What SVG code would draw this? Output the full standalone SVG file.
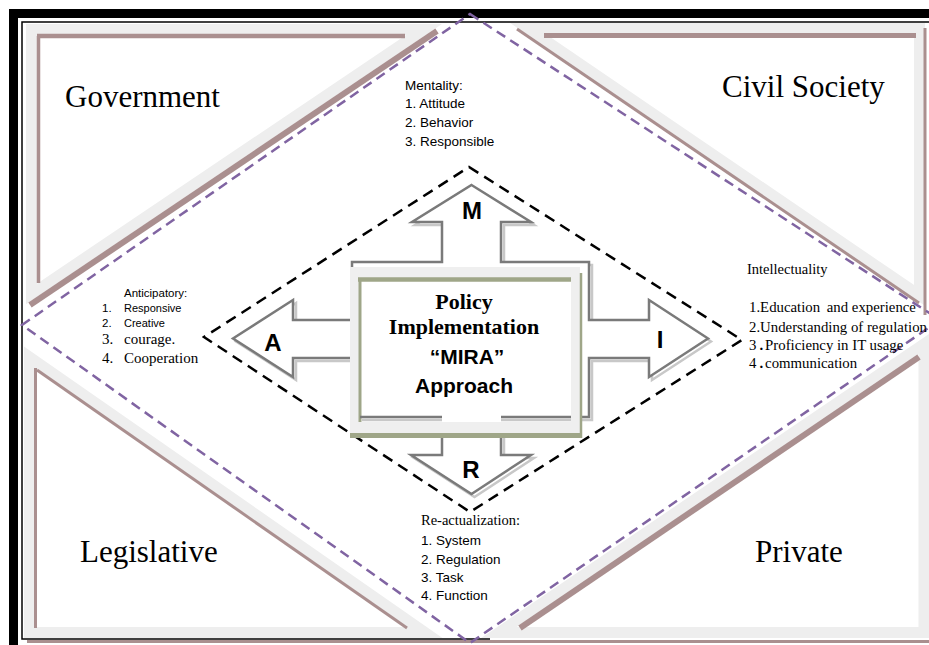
<svg xmlns="http://www.w3.org/2000/svg" width="929" height="645" viewBox="0 0 929 645">
<style>
.band{fill:none;stroke:#eeeeee;stroke-width:11;stroke-linejoin:miter}
.br{stroke:#aa8f8f;fill:none}
.corner{font-family:"Liberation Serif","Times New Roman",serif;font-size:31px;fill:#000}
.serif{font-family:"Liberation Serif","Times New Roman",serif;fill:#000}
.sans{font-family:"Liberation Sans",Arial,sans-serif;fill:#000}
.arr{fill:#fff;stroke:#7a7a7a;stroke-width:2.5;stroke-linejoin:miter}
.arrsh{fill:none;stroke:#c8c8c8;stroke-width:2.5}
.olive{stroke:#9fa688;fill:none}
.purple{fill:none;stroke:#8064a2;stroke-width:2.5;stroke-dasharray:10 6}
.blackdash{fill:none;stroke:#000;stroke-width:2.5;stroke-dasharray:11 7}
.letter{font-family:"Liberation Sans",Arial,sans-serif;font-size:24px;font-weight:bold;fill:#000;text-anchor:middle}
</style>
<rect width="929" height="645" fill="#fff"/>

<g id="frame">
  <rect x="9" y="9" width="920" height="9" fill="#000"/>
  <rect x="9" y="9" width="9" height="636" fill="#000"/>
  <line x1="27" y1="641.5" x2="929" y2="641.5" stroke="#aa8f8f" stroke-width="3"/>
  <path d="M490,639 H22 V22 H929" stroke="#000" stroke-width="1.5" fill="none"/>
</g>

<g id="government">
  <polygon class="band" points="31.5,29.5 424,29.5 31.5,294"/>
  <line class="br" x1="37" y1="36" x2="405" y2="36" stroke-width="4.5"/>
  <line class="br" x1="38.5" y1="36" x2="38.5" y2="283" stroke-width="3.5"/>
  <line class="br" x1="437" y1="31" x2="30" y2="305" stroke-width="6"/>
  <text class="corner" x="65" y="107">Government</text>
</g>

<g id="civil-society">
  <polygon class="band" points="528,28.5 919.5,28.5 919.5,295.4"/>
  <line class="br" x1="544" y1="35.5" x2="916" y2="35.5" stroke-width="5"/>
  <line class="br" x1="925" y1="28" x2="925" y2="315" stroke-width="3"/>
  <line class="br" x1="517" y1="29" x2="919" y2="303" stroke-width="3"/>
  <text class="corner" x="722" y="97">Civil Society</text>
</g>

<g id="legislative">
  <polygon class="band" points="29.5,357 29.5,632.5 425,632.5"/>
  <line class="br" x1="35.5" y1="368" x2="35.5" y2="628" stroke-width="3"/>
  <line class="br" x1="37" y1="370" x2="407" y2="628" stroke-width="3"/>
  <text class="corner" x="80" y="562">Legislative</text>
</g>

<g id="private">
  <polygon class="band" points="924,344 924,632.5 499,632.5"/>
  <line class="br" x1="919" y1="357" x2="520" y2="628" stroke-width="6"/>
  <text class="corner" x="755" y="562">Private</text>
</g>

<g id="connectors">
  <polygon class="purple" points="470,14 940,320 470,643 22,325"/>
  <polygon class="blackdash" points="469,167 742,340 470,512 204,337"/>
  <g id="mira-arrows">
    <polygon class="arrsh" transform="translate(3,3)" points="471.5,185 531,222 501,222 501,262 589,262 589,320 649,320 649,300 708,338.5 649,377 649,358 589,358 589,417 501,417 501,455 531,455 471.5,494 411,455 442,455 442,417 352,417 352,358 293,358 293,377 233,338.5 293,300 293,320 352,320 352,262 442,262 442,222 412,222"/>
    <polygon class="arr" points="471.5,185 531,222 501,222 501,262 589,262 589,320 649,320 649,300 708,338.5 649,377 649,358 589,358 589,417 501,417 501,455 531,455 471.5,494 411,455 442,455 442,417 352,417 352,358 293,358 293,377 233,338.5 293,300 293,320 352,320 352,262 442,262 442,222 412,222"/>
  </g>
</g>

<g id="mira-center">
  <rect x="350" y="267" width="230" height="167" fill="#efefef"/>
  <rect x="360" y="280" width="211" height="142" fill="#fff"/>
  <line class="olive" x1="358" y1="279.5" x2="571" y2="279.5" stroke-width="4.5"/>
  <line class="olive" x1="360" y1="278" x2="360" y2="422" stroke-width="3"/>
  <line class="olive" x1="581" y1="273" x2="581" y2="438" stroke-width="2.5"/>
  <line class="olive" x1="350" y1="435.5" x2="582" y2="435.5" stroke-width="5"/>
  <path d="M362,420 H442 M501,420 H571" stroke="#c8c8c8" stroke-width="2.5" fill="none"/>
  <path d="M360,417 H442 M501,417 H571" stroke="#7a7a7a" stroke-width="2.5" fill="none"/>
  <text class="serif" x="464" y="309" font-size="22" font-weight="bold" text-anchor="middle">Policy</text>
  <text class="serif" x="464" y="334" font-size="22" font-weight="bold" text-anchor="middle">Implementation</text>
  <text class="sans" x="467" y="364" font-size="21" font-weight="bold" text-anchor="middle">“MIRA”</text>
  <text class="sans" x="464" y="393" font-size="21" font-weight="bold" text-anchor="middle">Approach</text>
</g>

<g id="arrow-labels">
  <text class="letter" x="472" y="219">M</text>
  <text class="letter" x="660" y="348">I</text>
  <text class="letter" x="471" y="478">R</text>
  <text class="letter" x="273" y="351">A</text>
</g>

<g id="mentality">
  <text class="sans" x="405" y="90" font-size="13.5">Mentality:</text>
  <text class="sans" x="405" y="108" font-size="13.5">1. Attitude</text>
  <text class="sans" x="405" y="127" font-size="13.5">2. Behavior</text>
  <text class="sans" x="405" y="146" font-size="13.5">3. Responsible</text>
</g>

<g id="re-actualization">
  <text class="serif" x="421" y="525" font-size="14.5">Re-actualization:</text>
  <text class="sans" x="421" y="545" font-size="13.5">1. System</text>
  <text class="sans" x="421" y="564" font-size="13.5">2. Regulation</text>
  <text class="sans" x="421" y="582" font-size="13.5">3. Task</text>
  <text class="sans" x="421" y="600" font-size="13.5">4. Function</text>
</g>

<g id="anticipatory">
  <text class="sans" x="124" y="297" font-size="11.5">Anticipatory:</text>
  <text class="sans" x="102" y="312" font-size="11.5">1.</text>
  <text class="sans" x="124" y="312" font-size="11">Responsive</text>
  <text class="sans" x="102" y="327" font-size="11.5">2.</text>
  <text class="sans" x="124" y="327" font-size="11">Creative</text>
  <text class="serif" x="102" y="344" font-size="15">3.</text>
  <text class="serif" x="124" y="344" font-size="15">courage.</text>
  <text class="serif" x="102" y="363" font-size="15">4.</text>
  <text class="serif" x="124" y="363" font-size="15">Cooperation</text>
</g>

<g id="intellectuality">
  <text class="serif" x="747" y="274" font-size="14.5">Intellectuality</text>
  <text class="serif" x="749" y="312" font-size="14.8">1.Education <tspan dx="3">and experience</tspan></text>
  <text class="serif" x="749" y="332" font-size="14.8">2.Understanding of regulation</text>
  <text class="serif" x="749" y="350" font-size="14.8">3<tspan dx="3" font-weight="bold">.</tspan><tspan dx="2">Proficiency in IT usage</tspan></text>
  <text class="serif" x="749" y="368" font-size="14.8">4<tspan dx="3" font-weight="bold">.</tspan><tspan dx="2">communication</tspan></text>
</g>
</svg>
